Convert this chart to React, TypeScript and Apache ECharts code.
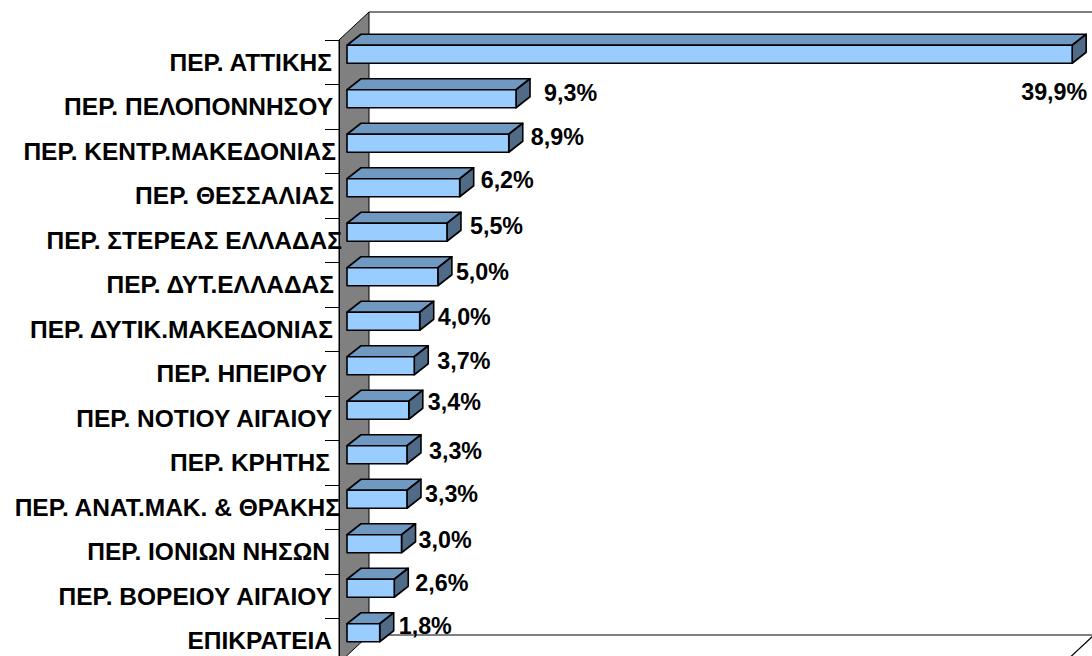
import React, { useEffect, useRef } from "react";
import * as echarts from "echarts";

const categories = [
  "ΠΕΡ. ΑΤΤΙΚΗΣ",
  "ΠΕΡ. ΠΕΛΟΠΟΝΝΗΣΟΥ",
  "ΠΕΡ. ΚΕΝΤΡ.ΜΑΚΕΔΟΝΙΑΣ",
  "ΠΕΡ. ΘΕΣΣΑΛΙΑΣ",
  "ΠΕΡ. ΣΤΕΡΕΑΣ ΕΛΛΑΔΑΣ",
  "ΠΕΡ. ΔΥΤ.ΕΛΛΑΔΑΣ",
  "ΠΕΡ. ΔΥΤΙΚ.ΜΑΚΕΔΟΝΙΑΣ",
  "ΠΕΡ. ΗΠΕΙΡΟΥ",
  "ΠΕΡ. ΝΟΤΙΟΥ ΑΙΓΑΙΟΥ",
  "ΠΕΡ. ΚΡΗΤΗΣ",
  "ΠΕΡ. ΑΝΑΤ.ΜΑΚ. & ΘΡΑΚΗΣ",
  "ΠΕΡ. ΙΟΝΙΩΝ ΝΗΣΩΝ",
  "ΠΕΡ. ΒΟΡΕΙΟΥ ΑΙΓΑΙΟΥ",
  "ΕΠΙΚΡΑΤΕΙΑ",
];
const values = [39.9, 9.3, 8.9, 6.2, 5.5, 5.0, 4.0, 3.7, 3.4, 3.3, 3.3, 3.0, 2.6, 1.8];

// hand placement of the value labels relative to each bar's end
const labelOffsetX = [-51, 28, 22, 21, 23, 18, 18, 23, 19, 22, 18, 17, 21, 19];
const labelOffsetY = [47, 3.5, 3, 1.5, 3, 4.5, 5, 4.5, 1, 5.5, 4, 5.5, 4, 2.5];
// padding of the category labels (hand placement in the source)
const categoryPadRight = [10, 9, 6, 8, 0, 8, 9, 15, 10, 12, 2, 12, 10, 10];
const categoryPadTop = [2, 2, 0, 2, 5.5, 2, 3, 1, 2, 1, 5.5, 4.5, 3, 1];

const FONT = "'Liberation Sans', Arial, sans-serif";
const GRID = { left: 339, top: 40, width: 727, height: 623 };
const DEPTH_X = 30;

function renderBar(params: any, api: any) {
  const i = api.value(0);
  const end = api.coord([api.value(1), i]);
  const start = api.coord([0, i]);
  const x0 = start[0] + 8;
  const x1 = end[0] + 8;
  const yTop = end[1] - 17;
  const yBot = yTop + 18;
  const dx = 14;
  const dy = 11;
  const line = { stroke: "#000", lineWidth: 1.6, lineJoin: "round" };
  const v = values[i].toFixed(1).replace(".", ",") + "%";
  return {
    type: "group",
    children: [
      {
        type: "polygon",
        shape: { points: [[x0, yTop], [x0 + dx, yTop - dy], [x1 + dx, yTop - dy], [x1, yTop]] },
        style: { fill: "#7099C2", ...line },
      },
      {
        type: "polygon",
        shape: { points: [[x1, yTop], [x1 + dx, yTop - dy], [x1 + dx, yBot - dy], [x1, yBot]] },
        style: { fill: "#4F6B88", ...line },
      },
      {
        type: "rect",
        shape: { x: x0, y: yTop, width: x1 - x0, height: yBot - yTop },
        style: { fill: "#99CCFF", ...line },
      },
      {
        type: "text",
        x: x1 + labelOffsetX[i],
        y: yTop + labelOffsetY[i],
        style: {
          text: v,
          fill: "#000",
          font: `bold 23.3px ${FONT}`,
          textAlign: "left",
          textVerticalAlign: "middle",
        },
      },
    ],
  };
}

export default function App() {
  const ref = useRef<HTMLDivElement>(null);
  useEffect(() => {
    const chart = echarts.init(ref.current!, undefined, { renderer: "svg" });
    chart.setOption({
      animation: false,
      backgroundColor: "#fff",
      grid: GRID,
      graphic: {
        elements: [
          {
            type: "polyline",
            z: 0,
            shape: {
              points: [
                [GRID.left + DEPTH_X, 12],
                [1092, 12],
              ],
            },
            style: { stroke: "#000", lineWidth: 1, fill: "none" },
          },
          {
            type: "polyline",
            z: 0,
            shape: {
              points: [
                [GRID.left + DEPTH_X, 635],
                [1094, 635],
                [1064, 663],
              ],
            },
            style: { stroke: "#000", lineWidth: 1.2, fill: "none" },
          },
          {
            type: "polygon",
            z: 0,
            shape: {
              points: [
                [GRID.left, 40],
                [GRID.left + DEPTH_X, 12],
                [GRID.left + DEPTH_X, 635],
                [GRID.left, 663],
              ],
            },
            style: { fill: "#808080", stroke: "#000", lineWidth: 1 },
          },
        ],
      },
      xAxis: { type: "value", min: 0, max: 40, show: false },
      yAxis: {
        type: "category",
        inverse: true,
        z: 5,
        data: categories.map((c, i) => ({
          value: c,
          textStyle: { padding: [categoryPadTop[i], categoryPadRight[i], 0, 0] },
        })),
        axisLine: { show: true, lineStyle: { color: "#000", width: 1 } },
        axisTick: { show: true, length: 14, lineStyle: { color: "#000", width: 1 } },
        axisLabel: {
          interval: 0,
          margin: -3,
          color: "#000",
          fontFamily: FONT,
          fontWeight: "bold",
          fontSize: 24.5,
        },
      },
      series: [
        {
          type: "custom",
          z: 3,
          clip: false,
          renderItem: renderBar,
          encode: { x: 1, y: 0 },
          data: values.map((v, i) => [i, v]),
        },
      ],
    });
    return () => chart.dispose();
  }, []);
  return (
    <div style={{ position: "fixed", left: 0, top: 0, width: 1092, height: 656, overflow: "hidden" }}>
      <div ref={ref} style={{ width: 1092, height: 670 }} />
    </div>
  );
}
